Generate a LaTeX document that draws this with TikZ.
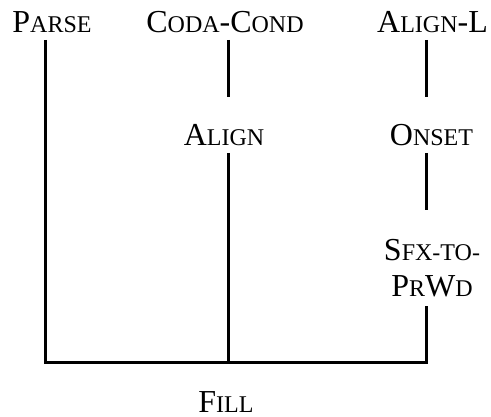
\documentclass[tikz,border=0pt]{standalone}
\usepackage{fontspec}
\setmainfont{Liberation Serif}
\usetikzlibrary{calc}
\newcommand\smc[1]{{\fontsize{24}{36}\selectfont #1}}
\begin{document}
\begin{tikzpicture}[x=1pt,y=-1pt,
  lbl/.style={anchor=base,inner sep=0pt,font=\fontsize{32}{36}\selectfont,align=center},
  edge/.style={line width=3pt}]
\useasboundingbox (0,0) rectangle (491,417);
\node[lbl] (parse)  at (52,33)    {P\smc{ARSE}};
\node[lbl] (coda)   at (225,33)   {C\smc{ODA}-C\smc{OND}};
\node[lbl] (alignl) at (432.5,33) {A\smc{LIGN}-L};
\node[lbl] (align)  at (224,146)  {A\smc{LIGN}};
\node[lbl] (onset)  at (431.5,146){O\smc{NSET}};
\node[lbl] (sfx)    at (432,297)  {S\smc{FX-TO-}\\P\smc{R}W\smc{D}};
\node[lbl] (fill)   at (226,413)  {F\smc{ILL}};
\draw[edge] ($(coda.base)+(3,7)$) -- ($(align.base)+(4,-49)$);
\draw[edge] ($(alignl.base)+(-6,7)$) -- ($(onset.base)+(-5,-49)$);
\draw[edge] ($(onset.base)+(-5,7)$) -- ($(sfx.base)+(-5.5,-87)$);
\draw[edge] ($(parse.base)+(-6.5,7)$) |- ($(sfx.base)+(-5.5,66)$) -- ($(sfx.base)+(-5.5,9)$);
\draw[edge] ($(align.base)+(4,7)$) -- ($(align.base)+(4,217)$);
\end{tikzpicture}
\end{document}
